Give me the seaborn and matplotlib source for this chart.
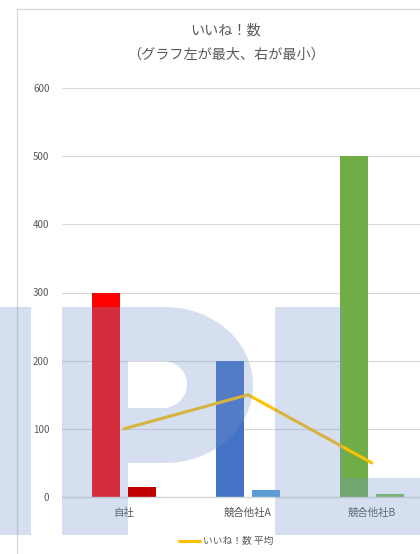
import numpy as np
import pandas as pd
import matplotlib
matplotlib.use('Agg')
import matplotlib.pyplot as plt
from matplotlib.path import Path
from matplotlib.patches import PathPatch, Rectangle
import seaborn as sns

# chart values
categories = ['自社', '競合他社A', '競合他社B']
max_likes = [300, 200, 500]
min_likes = [15, 10, 5]
avg_likes = [100, 150, 50]
max_colors = ['#FF0000', '#4472C4', '#70AD47']
min_colors = ['#C00000', '#5B9BD5', '#7CC05A']
y_ticks = [0, 100, 200, 300, 400, 500, 600]

sns.set_style('white')
plt.rcParams['font.family'] = ['Noto Sans CJK JP', 'DejaVu Sans']

df = pd.DataFrame({
    'company': categories * 2,
    'likes': max_likes + min_likes,
    'kind': ['最大'] * 3 + ['最小'] * 3,
})

fig = plt.figure(figsize=(4.2, 5.54), dpi=100)
ax = fig.add_axes([62 / 420, 1 - 497 / 554, 372 / 420, 409 / 554])

sns.barplot(data=df, x='company', y='likes', hue='kind', order=categories,
            width=0.565, gap=0.2, legend=False, ax=ax, saturation=1)
for bar, c in zip(ax.containers[0], max_colors):
    bar.set_facecolor(c)
    bar.set_edgecolor('none')
for bar, c in zip(ax.containers[1], min_colors):
    bar.set_facecolor(c)
    bar.set_edgecolor('none')

sns.lineplot(x=categories, y=avg_likes, color='#FFC000', lw=2.2, ax=ax,
             label='いいね！数 平均', legend=False, sort=False)

ax.set_ylim(0, 600)
ax.set_xlim(-0.5, 2.5)
ax.set_yticks(y_ticks)
ax.set_xlabel('')
ax.set_ylabel('')
ax.grid(axis='y', color='#D9D9D9', lw=0.8)
ax.set_axisbelow(True)
for s in ['left', 'right', 'top']:
    ax.spines[s].set_visible(False)
ax.spines['bottom'].set_color('#D9D9D9')
ax.spines['bottom'].set_linewidth(1)
ax.tick_params(axis='y', length=0, pad=9, labelsize=7, labelcolor='#595959')
ax.tick_params(axis='x', length=0, pad=8, labelsize=7.5, labelcolor='#595959')

fig.text(226 / 420, 1 - 30 / 554, 'いいね！数', ha='center', va='center',
         fontsize=10.2, color='#595959')
fig.text(226 / 420, 1 - 55 / 554, '（グラフ左が最大、右が最小）', ha='center', va='center',
         fontsize=10.2, color='#595959')

h, l = ax.get_legend_handles_labels()
fig.legend(h, l, loc='center', bbox_to_anchor=(226 / 420, 1 - 541 / 554),
           frameon=False, fontsize=7, labelcolor='#595959', handlelength=2.2,
           handletextpad=0.3)

# overlay: chart frame + watermark
ov = fig.add_axes([0, 0, 1, 1], zorder=10)
ov.set_xlim(0, 420)
ov.set_ylim(554, 0)
ov.axis('off')
ov.patch.set_alpha(0)
ov.add_patch(Rectangle((17, 9), 430, 560, fill=False, edgecolor='#D9D9D9', lw=1))


def poly(pts):
    pts = list(pts)
    verts = pts + [pts[0]]
    codes = [Path.MOVETO] + [Path.LINETO] * (len(pts) - 1) + [Path.CLOSEPOLY]
    return verts, codes


t = np.linspace(-np.pi / 2, np.pi / 2, 60)
p_outer = [(62, 307), (165, 307)] + list(zip(165 + 88 * np.cos(t), 385 + 78 * np.sin(t))) \
    + [(128, 463), (128, 535), (62, 535)]
p_hole = [(128, 361), (163, 361)] + list(zip(163 + 24 * np.cos(t), 384.5 + 23.5 * np.sin(t))) \
    + [(128, 408)]
p_hole = p_hole[::-1]
l_shape = [(275, 307), (343, 307), (343, 478), (425, 478), (425, 535), (275, 535)]
bar_left = [(-5, 307), (31, 307), (31, 535), (-5, 535)]

verts, codes = [], []
for shape in [bar_left, p_outer, p_hole, l_shape]:
    v, c = poly(shape)
    verts += v
    codes += c
ov.add_patch(PathPatch(Path(verts, codes), facecolor='#7896CD', edgecolor='none', alpha=0.3))

fig.savefig('out.png', dpi=100)
